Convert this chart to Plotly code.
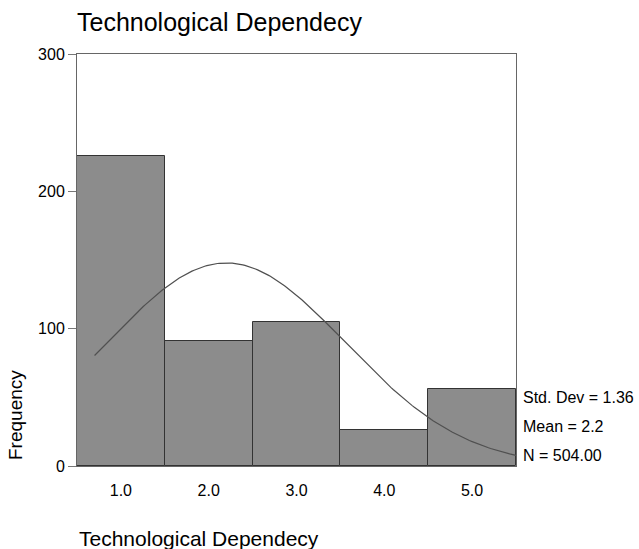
import numpy as np
import plotly.graph_objects as go

categories = [1.0, 2.0, 3.0, 4.0, 5.0]
tick_labels = ["1.0", "2.0", "3.0", "4.0", "5.0"]
frequencies = [226, 91, 105, 26, 56]
y_ticks = [0, 100, 200, 300]
std_dev = 1.36
mean = 2.2
n_total = 504
curve_start, curve_end = 0.7, 5.5

x_curve = np.linspace(curve_start, curve_end, 200)
y_curve = n_total * 1.0 / (std_dev * np.sqrt(2 * np.pi)) * np.exp(-(x_curve - mean) ** 2 / (2 * std_dev ** 2))

FONT = "Arial, Liberation Sans, sans-serif"

fig = go.Figure()
fig.add_trace(go.Bar(
    x=categories, y=frequencies, width=1.0,
    marker=dict(color="#8c8c8c", line=dict(color="#333333", width=1)),
    showlegend=False,
))
fig.add_trace(go.Scatter(
    x=x_curve, y=y_curve, mode="lines",
    line=dict(color="#505050", width=1.2), showlegend=False,
))

fig.update_layout(
    width=639, height=549,
    margin=dict(l=77, r=123, t=54, b=83),
    paper_bgcolor="white", plot_bgcolor="white",
    font=dict(family=FONT, color="black"),
    bargap=0,
    xaxis=dict(range=[0.5, 5.5], tickmode="array", tickvals=categories, ticktext=tick_labels,
               showgrid=False, zeroline=False, showline=True, linecolor="#666666",
               mirror=True, ticks="", ticklabelstandoff=10,
               tickfont=dict(family=FONT, size=16, color="black")),
    yaxis=dict(range=[0, 300], tickmode="array", tickvals=y_ticks, showgrid=False, zeroline=False,
               showline=True, linecolor="#666666", mirror=True,
               ticks="outside", ticklen=8, tickcolor="#777777",
               tickfont=dict(family=FONT, size=16, color="black")),
    annotations=[
        dict(text="Technological Dependecy", xref="paper", yref="paper",
             x=-0.005, y=1.0, yshift=32, xanchor="left", yanchor="middle",
             showarrow=False, font=dict(size=25)),
        dict(text="Technological Dependecy", xref="paper", yref="paper",
             x=0.0, y=0.0, yshift=-72, xanchor="left", yanchor="middle",
             showarrow=False, font=dict(size=21)),
        dict(text="Frequency", xref="paper", yref="paper",
             x=0.0, xshift=-62, y=(466 - 415) / 412, textangle=-90, xanchor="center",
             yanchor="middle", showarrow=False, font=dict(size=19)),
        dict(text=f"Std. Dev = {std_dev:.2f}", xref="paper", yref="paper",
             x=1.0, xshift=5, y=(466 - 397) / 412, xanchor="left", yanchor="middle",
             showarrow=False, font=dict(size=16)),
        dict(text=f"Mean = {mean:.1f}", xref="paper", yref="paper",
             x=1.0, xshift=5, y=(466 - 426) / 412, xanchor="left", yanchor="middle",
             showarrow=False, font=dict(size=16)),
        dict(text=f"N = {n_total:.2f}", xref="paper", yref="paper",
             x=1.0, xshift=5, y=(466 - 455) / 412, xanchor="left", yanchor="middle",
             showarrow=False, font=dict(size=16)),
    ],
)

fig.write_html("out.html")
